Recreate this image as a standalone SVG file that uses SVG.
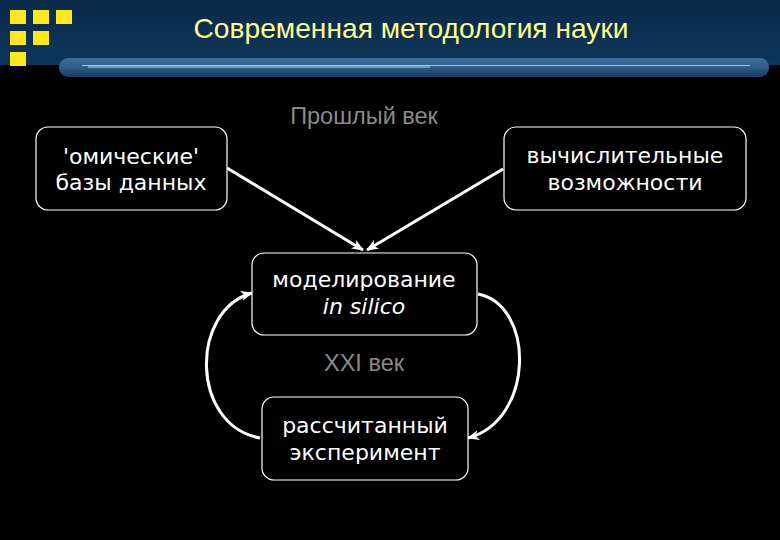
<svg xmlns="http://www.w3.org/2000/svg" width="780" height="540" viewBox="0 0 780 540">
<defs>
<linearGradient id="hdr" x1="0" y1="0" x2="0" y2="1">
<stop offset="0" stop-color="#0a2a4a"/>
<stop offset="1" stop-color="#0d3558"/>
</linearGradient>
<linearGradient id="bar" x1="0" y1="0" x2="0" y2="1">
<stop offset="0" stop-color="#3c6d9c"/>
<stop offset="0.5" stop-color="#2e5c8a"/>
<stop offset="1" stop-color="#173a5e"/>
</linearGradient>
<marker id="ah" viewBox="0 0 12 10" refX="11" refY="5" markerWidth="12" markerHeight="10" markerUnits="userSpaceOnUse" orient="auto">
<path d="M0,0 L12,5 L0,10 L3,5 Z" fill="#ffffff"/>
</marker>
<style>
.box{fill:#000000;stroke:#ffffff;stroke-width:1.2}
.lbl{font-family:"DejaVu Sans","Noto Sans",sans-serif;font-size:22px;fill:#ffffff;text-anchor:middle}
.era{font-family:"Liberation Sans",Arial,sans-serif;font-size:23.5px;fill:#8a8a8a;text-anchor:middle}
.con{fill:none;stroke:#ffffff;stroke-width:3;marker-end:url(#ah)}
.sq{fill:#ffe81a}
</style>
</defs>
<rect x="0" y="0" width="780" height="540" fill="#000000"/>
<g id="header">
<rect x="0" y="0" width="780" height="65" fill="url(#hdr)"/>
<rect class="sq" x="10" y="10" width="16" height="14"/>
<rect class="sq" x="33" y="10" width="16" height="14"/>
<rect class="sq" x="56" y="10" width="16" height="14"/>
<rect class="sq" x="10" y="31" width="16" height="14"/>
<rect class="sq" x="33" y="31" width="16" height="14"/>
<rect class="sq" x="10" y="52" width="16" height="14"/>
<rect x="59" y="58" width="710" height="19" rx="9" fill="url(#bar)"/>
<line x1="82" y1="65.5" x2="750" y2="65.5" stroke="#a9c4dd" stroke-width="1"/>
<line x1="88" y1="67" x2="430" y2="67" stroke="#c8d8e8" stroke-width="1"/>
<text x="411" y="38" font-family="'Liberation Sans',Arial,sans-serif" font-size="28" fill="#ffff8c" text-anchor="middle" textLength="435" lengthAdjust="spacingAndGlyphs">Современная методология науки</text>
</g>
<text class="era" x="364" y="124">Прошлый век</text>
<text class="era" x="364" y="371">XXI век</text>
<g id="connectors">
<line class="con" x1="227" y1="168" x2="363" y2="250"/>
<line class="con" x1="503" y1="169" x2="367" y2="250"/>
<path class="con" d="M260,438 C190,425 190,310 252,293"/>
<path class="con" d="M478,294 C535,305 535,420 468,438"/>
</g>
<g id="omics">
<rect class="box" x="36" y="127" width="191" height="83" rx="12"/>
<text class="lbl" x="131" y="164">'омические'</text>
<text class="lbl" x="131" y="190">базы данных</text>
</g>
<g id="compute">
<rect class="box" x="504" y="127" width="242" height="83" rx="12"/>
<text class="lbl" x="625" y="163">вычислительные</text>
<text class="lbl" x="625" y="190">возможности</text>
</g>
<g id="modeling">
<rect class="box" x="252" y="253" width="225" height="82" rx="12"/>
<text class="lbl" x="364" y="287">моделирование</text>
<text class="lbl" x="364" y="314" font-style="italic">in silico</text>
</g>
<g id="experiment">
<rect class="box" x="262" y="397" width="206" height="83" rx="12"/>
<text class="lbl" x="365" y="433">рассчитанный</text>
<text class="lbl" x="365" y="460">эксперимент</text>
</g>
</svg>
